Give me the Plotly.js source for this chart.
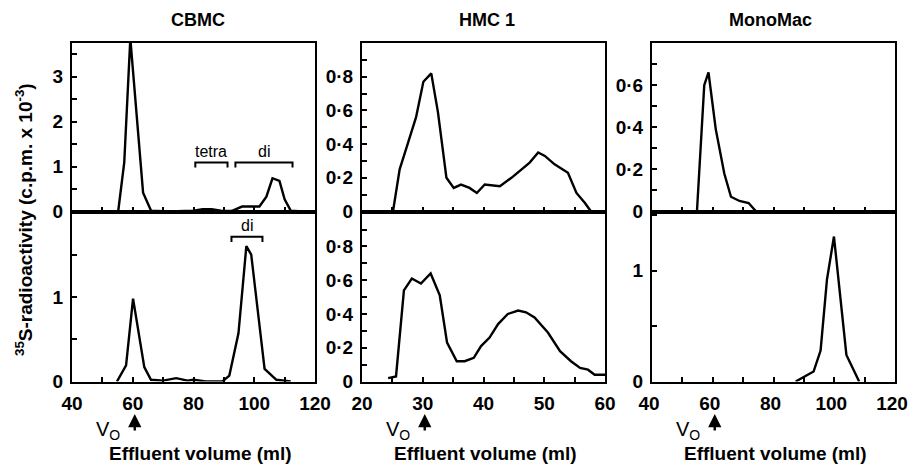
<!DOCTYPE html>
<html>
<head>
<meta charset="utf-8">
<script src="https://cdn.plot.ly/plotly-3.0.1.min.js"></script>
<style>html,body{margin:0;padding:0;background:#fff;}#chart{width:910px;height:469px;}</style>
</head>
<body>
<div id="chart"></div>
<script>
// ---------------- data ----------------
const panelTitles = ['CBMC', 'HMC 1', 'MonoMac'];

// CBMC (upper and lower profiles)
const cbmcTopX = [55.2, 57.2, 59.2, 61.1, 63.4, 66, 72, 80, 83, 86, 89, 92.5, 94, 96, 99, 101.7, 104, 106, 108.3, 110, 112, 116];
const cbmcTopY = [0, 1.09, 3.85, 2.27, 0.42, 0.02, 0, 0.02, 0.05, 0.05, 0.02, 0.01, 0.05, 0.11, 0.11, 0.11, 0.33, 0.74, 0.68, 0.27, 0.02, 0];
const cbmcBotX = [54.8, 57.8, 60.1, 63.8, 66, 70, 74.3, 78, 80, 84, 89.5, 91.8, 94.8, 97.4, 99, 100.7, 103.4, 107.3, 112];
const cbmcBotY = [0, 0.19, 0.98, 0.17, 0.02, 0.01, 0.04, 0.01, 0.02, 0, 0, 0.07, 0.57, 1.6, 1.5, 0.96, 0.15, 0.02, 0];

// HMC 1
const hmcTopX = [25.1, 26.2, 27.6, 28.9, 30.1, 31.4, 32.5, 33.9, 35.1, 36.3, 37.7, 38.9, 40.2, 42.7, 44.6, 47.6, 49, 50.1, 51.7, 53.9, 55.3, 56.7, 57.7];
const hmcTopY = [0, 0.25, 0.41, 0.56, 0.77, 0.82, 0.59, 0.2, 0.14, 0.16, 0.14, 0.11, 0.16, 0.15, 0.2, 0.29, 0.35, 0.33, 0.28, 0.23, 0.11, 0.05, 0];
const hmcBotX = [24.3, 25.6, 26.9, 28.2, 29.7, 31.3, 32.8, 34, 35.6, 36.9, 38.4, 39.6, 41, 42.4, 44, 45.7, 47, 48.4, 50.6, 52.6, 54.4, 55.9, 57.2, 58.3, 60];
const hmcBotY = [0.02, 0.03, 0.54, 0.61, 0.58, 0.64, 0.51, 0.23, 0.12, 0.12, 0.14, 0.21, 0.26, 0.34, 0.4, 0.42, 0.41, 0.38, 0.29, 0.18, 0.12, 0.08, 0.07, 0.04, 0.04];

// MonoMac
const monoTopX = [54.8, 57.2, 58.6, 61, 63.8, 66, 68.8, 71.8, 74.3];
const monoTopY = [0, 0.6, 0.66, 0.39, 0.18, 0.07, 0.05, 0.04, 0];
const monoBotX = [87.3, 93.2, 95.5, 97.6, 99.9, 102, 104, 108.2];
const monoBotY = [0, 0.09, 0.28, 0.92, 1.31, 0.77, 0.24, 0];

// void volume (Vo) marks
const voVolumes = [60, 30, 60];

// fraction brackets (ml range, level in c.p.m. x 10^-3)
const bracketLabels = ['tetra', 'di', 'di'];
const bracketFrom = [80.6, 93.8, 92.5];
const bracketTo = [91.2, 112.6, 102.7];
const bracketLevel = [1.09, 1.09, 1.71];

// tick labels
const cbmcTopTicks = [0, 1, 2, 3];
const cbmcBotTicks = [0, 1];
const hmcTicks = [0, 0.2, 0.4, 0.6, 0.8];
const hmcTickText = ['0', '0·2', '0·4', '0·6', '0·8'];
const monoTopTicks = [0, 0.2, 0.4, 0.6];
const monoTopTickText = ['0', '0·2', '0·4', '0·6'];
const monoBotTicks = [0, 1];

// ---------------- layout helpers ----------------
const FONT = 'Liberation Sans, Arial, Helvetica, sans-serif';
const W = 910, H = 469;
const px2x = p => p / W;
const px2y = p => 1 - p / H;

const colDom = [[px2x(72), px2x(315)], [px2x(362), px2x(605)], [px2x(652), px2x(895)]];
const topDom = [px2y(211.5), px2y(43)];
const botDom = [px2y(381.5), px2y(211.5)];

const tickFont = {family: FONT, size: 19, color: '#000', weight: 'bold'};

function xAx(dom, range, dtick, minorD, labels) {
  return {
    domain: dom, range: range, showgrid: false, zeroline: false,
    showline: true, mirror: true, linecolor: '#000', linewidth: 2,
    ticks: 'inside', ticklen: 5, tickwidth: 2, tickcolor: '#000',
    tickmode: 'linear', tick0: range[0], dtick: dtick,
    minor: {ticks: 'inside', ticklen: 5, tickwidth: 2, tickcolor: '#000', dtick: minorD, tick0: range[0], showgrid: false},
    showticklabels: labels, tickfont: tickFont, ticklabelstandoff: 4,
    ticklabeloverflow: 'allow',
    fixedrange: true
  };
}
function yAx(dom, range, vals, text, minorD, anchor) {
  return {
    domain: dom, range: range, anchor: anchor, showgrid: false, zeroline: false,
    showline: true, mirror: true, linecolor: '#000', linewidth: 2,
    ticks: 'inside', ticklen: 5, tickwidth: 2, tickcolor: '#000',
    tickmode: 'array', tickvals: vals, ticktext: text,
    minor: {ticks: 'inside', ticklen: 5, tickwidth: 2, tickcolor: '#000', tickmode: 'linear', tick0: 0, dtick: minorD, showgrid: false},
    tickfont: tickFont, ticklabelstandoff: 3,
    fixedrange: true
  };
}

const lineStyle = {color: '#000', width: 2.4};
function tr(x, y, xa, ya) {
  return {x: x, y: y, xaxis: xa, yaxis: ya, type: 'scatter', mode: 'lines', line: lineStyle, hoverinfo: 'skip', showlegend: false};
}

const data = [
  tr(cbmcTopX, cbmcTopY, 'x', 'y'),
  tr(cbmcBotX, cbmcBotY, 'x2', 'y2'),
  tr(hmcTopX, hmcTopY, 'x3', 'y3'),
  tr(hmcBotX, hmcBotY, 'x4', 'y4'),
  tr(monoTopX, monoTopY, 'x5', 'y5'),
  tr(monoBotX, monoBotY, 'x6', 'y6')
];

const layout = {
  width: W, height: H,
  margin: {l: 0, r: 0, t: 0, b: 0},
  paper_bgcolor: '#fff', plot_bgcolor: 'rgba(0,0,0,0)',
  showlegend: false,
  font: {family: FONT, color: '#000'},
  xaxis:  Object.assign(xAx(colDom[0], [40, 120], 20, 10, false), {anchor: 'y'}),
  xaxis2: Object.assign(xAx(colDom[0], [40, 120], 20, 10, true), {anchor: 'y2'}),
  xaxis3: Object.assign(xAx(colDom[1], [20, 60], 10, 5, false), {anchor: 'y3'}),
  xaxis4: Object.assign(xAx(colDom[1], [20, 60], 10, 5, true), {anchor: 'y4'}),
  xaxis5: Object.assign(xAx(colDom[2], [40, 120], 20, 10, false), {anchor: 'y5'}),
  xaxis6: Object.assign(xAx(colDom[2], [40, 120], 20, 10, true), {anchor: 'y6', ticklabelshift: -3}),
  yaxis:  yAx(topDom, [0, 3.75], cbmcTopTicks, cbmcTopTicks.map(String), 0.5, 'x'),
  yaxis2: yAx(botDom, [0, 2.01], cbmcBotTicks, cbmcBotTicks.map(String), 0.5, 'x2'),
  yaxis3: yAx(topDom, [0, 1.0], hmcTicks, hmcTickText, 0.1, 'x3'),
  yaxis4: yAx(botDom, [0, 1.007], hmcTicks, hmcTickText, 0.1, 'x4'),
  yaxis5: yAx(topDom, [0, 0.8], monoTopTicks, monoTopTickText, 0.1, 'x5'),
  yaxis6: yAx(botDom, [0, 1.536], monoBotTicks, monoBotTicks.map(String), 0.5, 'x6'),
  shapes: [],
  annotations: []
};

// panel titles
const titleX = [198, 487, 770];
panelTitles.forEach((t, i) => {
  layout.annotations.push({text: t, xref: 'paper', yref: 'paper', x: px2x(titleX[i]), y: px2y(20),
    xanchor: 'center', yanchor: 'middle', showarrow: false,
    font: {family: FONT, size: 18, color: '#000', weight: 'bold'}});
});

// x-axis titles
const xTitleX = [200, 485, 775];
xTitleX.forEach(cx => {
  layout.annotations.push({text: 'Effluent volume (ml)', xref: 'paper', yref: 'paper', x: px2x(cx), y: px2y(453),
    xanchor: 'center', yanchor: 'middle', showarrow: false,
    font: {family: FONT, size: 19, color: '#000', weight: 'bold'}});
});

// y-axis title
layout.annotations.push({text: '<sup>35</sup>S-radioactivity (c.p.m. x 10<sup>-3</sup>)', xref: 'paper', yref: 'paper',
  x: px2x(24), y: px2y(220), xanchor: 'center', yanchor: 'middle', textangle: -90, showarrow: false,
  font: {family: FONT, size: 19, color: '#000', weight: 'bold'}});

// Vo markers
const voAxes = ['x2', 'x4', 'x6'];
voVolumes.forEach((v, i) => {
  layout.annotations.push({text: ' ', xref: voAxes[i], yref: 'paper', x: v, y: px2y(414),
    showarrow: true, ax: 0, ay: 19, arrowhead: 2, arrowsize: 1.1, arrowwidth: 2.4, arrowcolor: '#000',
    font: {size: 2}, xshift: 2});
  layout.annotations.push({text: 'V<sub>O</sub>', xref: voAxes[i], yref: 'paper', x: v, y: px2y(430),
    xanchor: 'right', yanchor: 'middle', xshift: -11, showarrow: false,
    font: {family: FONT, size: 20, color: '#000'}});
});

// fraction brackets
const bracketAxes = [['x', 'y', 0.11], ['x', 'y', 0.11], ['x2', 'y2', 0.06]];
bracketLabels.forEach((lab, i) => {
  const [xa, ya, d] = bracketAxes[i];
  const x0 = bracketFrom[i], x1 = bracketTo[i], lv = bracketLevel[i];
  layout.shapes.push({type: 'path', xref: xa, yref: ya,
    path: `M${x0},${lv - d} L${x0},${lv} L${x1},${lv} L${x1},${lv - d}`,
    line: {color: '#000', width: 2}});
  layout.annotations.push({text: lab, xref: xa, yref: ya, x: (x0 + x1) / 2, y: lv,
    xanchor: 'center', yanchor: 'bottom', yshift: 1, showarrow: false,
    font: {family: FONT, size: 16, color: '#000'}});
});

Plotly.newPlot('chart', data, layout, {displayModeBar: false, staticPlot: true});
</script>
</body>
</html>
